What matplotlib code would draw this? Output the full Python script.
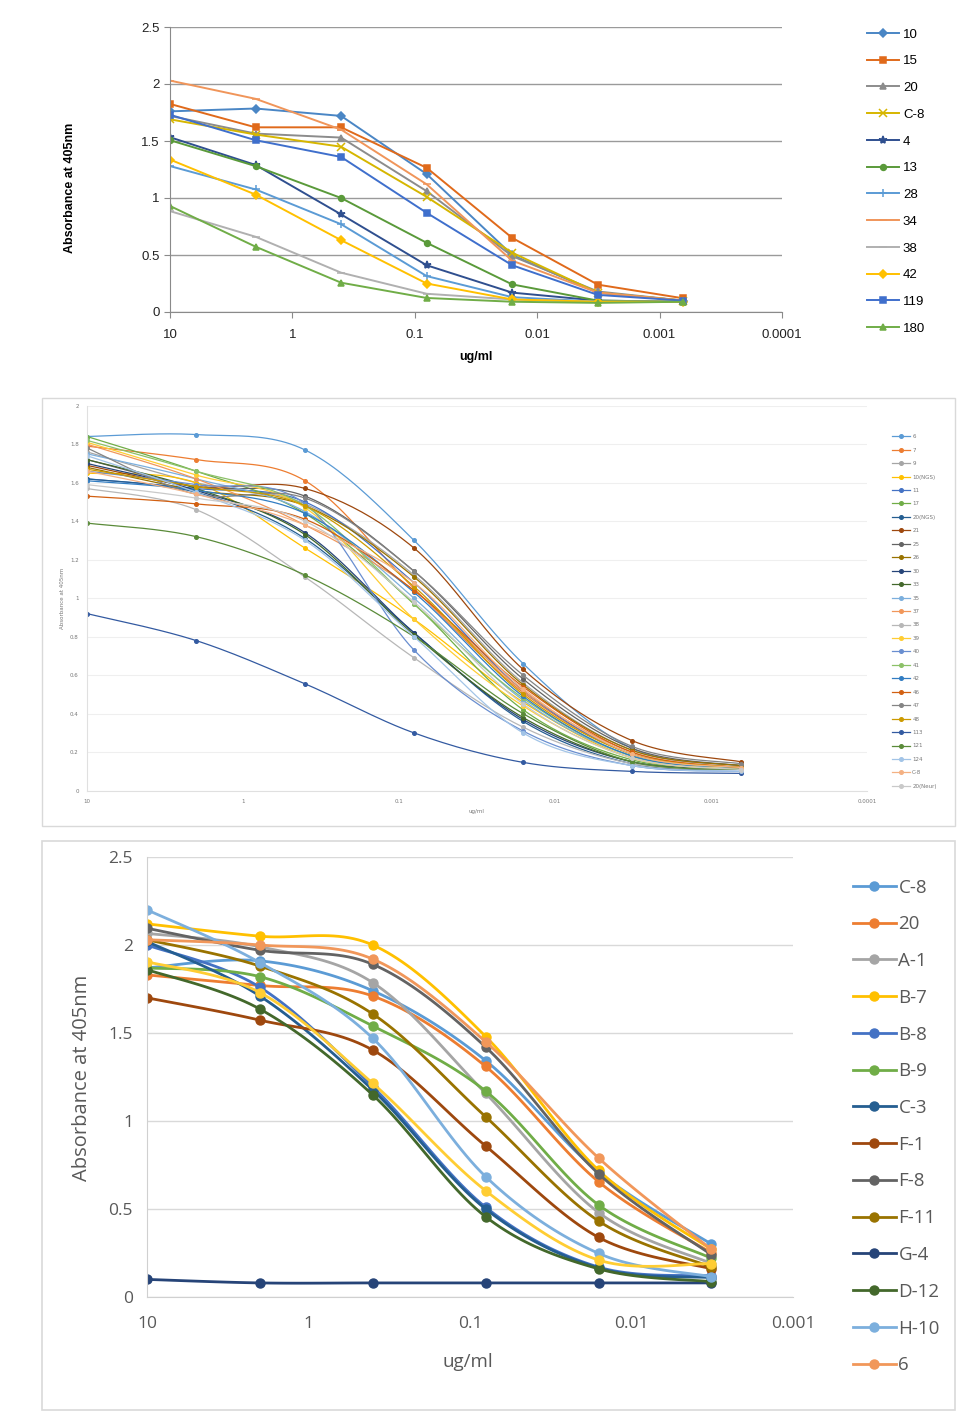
import matplotlib
matplotlib.use('Agg')
import matplotlib.pyplot as plt
from matplotlib.patches import Rectangle
import numpy as np

# ---- данные: концентрации (ug/ml)
conc7 = [10, 2, 0.4, 0.08, 0.016, 0.0032, 0.00064]
conc6 = [10, 2, 0.4, 0.08, 0.016, 0.0032]

# ---- панель 1
p1_names = ['10', '15', '20', 'C-8', '4', '13', '28', '34', '38', '42', '119', '180']
p1_values = [
    [1.76, 1.785, 1.72, 1.21, 0.50, 0.17, 0.10],
    [1.825, 1.62, 1.62, 1.265, 0.65, 0.24, 0.12],
    [1.72, 1.565, 1.53, 1.06, 0.49, 0.18, 0.10],
    [1.69, 1.557, 1.45, 1.01, 0.52, 0.17, 0.10],
    [1.533, 1.29, 0.856, 0.41, 0.17, 0.10, 0.09],
    [1.507, 1.28, 1.0, 0.607, 0.242, 0.10, 0.09],
    [1.28, 1.075, 0.77, 0.315, 0.13, 0.09, 0.09],
    [2.03, 1.87, 1.60, 1.12, 0.45, 0.17, 0.10],
    [0.885, 0.66, 0.345, 0.16, 0.11, 0.09, 0.09],
    [1.337, 1.03, 0.63, 0.25, 0.11, 0.09, 0.09],
    [1.73, 1.507, 1.36, 0.87, 0.41, 0.15, 0.10],
    [0.93, 0.573, 0.257, 0.123, 0.09, 0.08, 0.09],
]
p1_colors = ['#4A86C5', '#E06A1B', '#8C8C8C', '#D6B600', '#2F4F8F', '#5A9A3A',
             '#5B9BD5', '#F0955A', '#B0B0B0', '#FFC000', '#3F6FCC', '#70AD47']
p1_markers = ['D', 's', '^', 'x', '*', 'o', '+', '_', '_', 'D', 's', '^']

# ---- панель 2
p2_names = ['6', '7', '9', '10(NGS)', '11', '17', '20(NGS)', '21', '25', '26', '30', '33',
            '35', '37', '38', '39', '40', '41', '42', '46', '47', '48', '113', '121',
            '124', 'C-8', '20(Neur)']
p2_values = [
    [1.84, 1.85, 1.77, 1.30, 0.66, 0.22, 0.13],
    [1.79, 1.72, 1.61, 1.05, 0.51, 0.19, 0.12],
    [1.76, 1.60, 1.49, 1.12, 0.56, 0.21, 0.13],
    [1.65, 1.60, 1.26, 0.89, 0.46, 0.17, 0.11],
    [1.62, 1.57, 1.50, 1.08, 0.52, 0.19, 0.12],
    [1.84, 1.66, 1.44, 0.97, 0.42, 0.16, 0.11],
    [1.62, 1.55, 1.31, 0.82, 0.36, 0.14, 0.11],
    [1.69, 1.58, 1.57, 1.26, 0.63, 0.26, 0.15],
    [1.72, 1.58, 1.53, 1.14, 0.58, 0.22, 0.13],
    [1.68, 1.56, 1.48, 1.11, 0.55, 0.21, 0.13],
    [1.70, 1.56, 1.34, 0.82, 0.37, 0.15, 0.11],
    [1.72, 1.57, 1.33, 0.81, 0.38, 0.15, 0.11],
    [1.75, 1.62, 1.45, 1.00, 0.47, 0.18, 0.12],
    [1.80, 1.62, 1.38, 1.04, 0.52, 0.20, 0.12],
    [1.57, 1.46, 1.11, 0.69, 0.33, 0.14, 0.11],
    [1.81, 1.64, 1.47, 0.89, 0.44, 0.17, 0.11],
    [1.66, 1.59, 1.49, 0.73, 0.31, 0.13, 0.10],
    [1.82, 1.66, 1.48, 0.97, 0.48, 0.18, 0.12],
    [1.61, 1.56, 1.44, 1.03, 0.49, 0.18, 0.12],
    [1.53, 1.49, 1.41, 1.04, 0.54, 0.20, 0.12],
    [1.78, 1.54, 1.52, 1.14, 0.60, 0.23, 0.14],
    [1.67, 1.58, 1.48, 1.06, 0.50, 0.19, 0.12],
    [0.92, 0.78, 0.555, 0.30, 0.147, 0.10, 0.09],
    [1.39, 1.32, 1.12, 0.80, 0.40, 0.15, 0.11],
    [1.74, 1.55, 1.30, 0.80, 0.30, 0.13, 0.10],
    [1.66, 1.54, 1.38, 1.08, 0.53, 0.19, 0.12],
    [1.59, 1.52, 1.40, 0.98, 0.45, 0.17, 0.11],
]
p2_colors = ['#5B9BD5', '#ED7D31', '#A5A5A5', '#FFC000', '#4472C4', '#70AD47', '#255E91',
             '#9E480E', '#636363', '#997300', '#264478', '#43682B', '#7CAFDD', '#F1975A',
             '#B7B7B7', '#FFCD33', '#698ED0', '#8CC168', '#327DC2', '#D26012', '#848484',
             '#CC9A00', '#335AA1', '#5A8B39', '#A2C4E7', '#F4B183', '#C9C9C9']

# ---- панель 3
p3_names = ['C-8', '20', 'A-1', 'B-7', 'B-8', 'B-9', 'C-3', 'F-1', 'F-8', 'F-11', 'G-4',
            'D-12', 'H-10', '6', '_nolegend_']
p3_values = [
    [1.87, 1.91, 1.74, 1.343, 0.71, 0.30],
    [1.83, 1.77, 1.71, 1.31, 0.655, 0.25],
    [2.066, 1.99, 1.786, 1.157, 0.48, 0.19],
    [2.12, 2.05, 2.0, 1.48, 0.72, 0.27],
    [2.0, 1.76, 1.195, 0.51, 0.17, 0.12],
    [1.87, 1.82, 1.54, 1.17, 0.523, 0.22],
    [2.02, 1.71, 1.176, 0.50, 0.165, 0.11],
    [1.70, 1.573, 1.403, 0.858, 0.339, 0.16],
    [2.095, 1.97, 1.89, 1.42, 0.70, 0.24],
    [2.03, 1.88, 1.608, 1.024, 0.432, 0.17],
    [0.10, 0.08, 0.08, 0.08, 0.08, 0.08],
    [1.86, 1.636, 1.148, 0.456, 0.16, 0.087],
    [2.2, 1.90, 1.47, 0.684, 0.248, 0.115],
    [2.03, 2.0, 1.92, 1.45, 0.79, 0.27],
    [1.905, 1.73, 1.214, 0.604, 0.21, 0.19],
]
p3_colors = ['#5B9BD5', '#ED7D31', '#A5A5A5', '#FFC000', '#4472C4', '#70AD47', '#255E91',
             '#9E480E', '#636363', '#997300', '#264478', '#43682B', '#7CAFDD', '#F1975A',
             '#FFCD33']

dec_labels = ['10', '1', '0.1', '0.01', '0.001', '0.0001']
dec_ticks = [10, 1, 0.1, 0.01, 0.001, 0.0001]


def smooth(xs, ys, n=24):
    # сглаживание как в Excel (кубический Безье, Catmull-Rom), в координатах log10(x), y
    pts = np.column_stack([np.log10(xs), ys])
    P = np.vstack([pts[0], pts, pts[-1]])
    segs = []
    t = np.linspace(0, 1, n)[:, None]
    for i in range(1, len(P) - 2):
        p0, p1, p2, p3 = P[i - 1], P[i], P[i + 1], P[i + 2]
        c1 = p1 + (p2 - p0) / 6
        c2 = p2 - (p3 - p1) / 6
        segs.append((1 - t) ** 3 * p1 + 3 * (1 - t) ** 2 * t * c1 + 3 * (1 - t) * t ** 2 * c2 + t ** 3 * p2)
    s = np.vstack(segs)
    return 10 ** s[:, 0], s[:, 1]


W, H = 980, 1418
fig = plt.figure(figsize=(W / 100, H / 100), dpi=100)


def fx(px):
    return px / W


def fy(py):
    return 1 - py / H


# ================= панель 1
ax1 = fig.add_axes([fx(170), fy(312), fx(782 - 170), (312 - 27) / H])
f1 = 'Liberation Sans'
for name, vals, c, m in zip(p1_names, p1_values, p1_colors, p1_markers):
    ms = 4.2 if m in ('s', 'o', '^') else 3.6
    if m == '*':
        ms = 6
    if m in ('x', '+', '_'):
        ms = 5.5
    ax1.plot(conc7, vals, color=c, lw=1.4, marker=m, ms=ms, mew=1.1, label=name)
ax1.set_xscale('log')
ax1.set_xlim(10, 0.0001)
ax1.set_ylim(0, 2.5)
ax1.set_xticks(dec_ticks)
ax1.set_xticklabels(dec_labels)
ax1.minorticks_off()
ax1.set_yticks([0, 0.5, 1, 1.5, 2, 2.5])
ax1.set_yticklabels(['0', '0.5', '1', '1.5', '2', '2.5'])
ax1.grid(axis='y', color='#9A9A9A', lw=1)
ax1.set_axisbelow(True)
for s in ['top', 'right']:
    ax1.spines[s].set_visible(False)
for s in ['left', 'bottom']:
    ax1.spines[s].set_color('#8A8A8A')
ax1.tick_params(axis='both', colors='#8A8A8A', labelcolor='#222222', labelsize=9.5, length=4)
ax1.tick_params(axis='x', pad=8)
for lab in ax1.get_xticklabels() + ax1.get_yticklabels():
    lab.set_fontfamily(f1)
fig.text(fx(476), fy(357), 'ug/ml', ha='center', va='center', fontsize=9, fontweight='bold', family=f1)
fig.text(fx(70), fy(188), 'Absorbance at 405nm', ha='center', va='center', rotation=90,
         fontsize=9, fontweight='bold', family=f1)
ax1.legend(loc='upper left', bbox_to_anchor=(fx(862), fy(23)), bbox_transform=fig.transFigure,
           frameon=False, prop={'family': f1, 'size': 9.5}, labelspacing=1.1,
           handlelength=2.4, handletextpad=0.3, borderaxespad=0)

# ================= панель 2
fig.patches.append(Rectangle((fx(42), fy(826)), fx(955 - 42), (826 - 398) / H,
                             transform=fig.transFigure, fill=False, ec='#D9D9D9', lw=1))
ax2 = fig.add_axes([fx(87), fy(790.7), fx(867 - 87), (790.7 - 405.7) / H])
for name, vals, c in zip(p2_names, p2_values, p2_colors):
    sx, sy = smooth(conc7, vals)
    ax2.plot(sx, sy, color=c, lw=0.9)
    ax2.plot(conc7, vals, ls='none', marker='o', ms=2.6, color=c)
    ax2.plot([], [], color=c, lw=0.9, marker='o', ms=2.6, label=name)
ax2.set_xscale('log')
ax2.set_xlim(10, 0.0001)
ax2.set_ylim(0, 2)
ax2.set_xticks(dec_ticks)
ax2.set_xticklabels(dec_labels)
ax2.minorticks_off()
ax2.set_yticks([0, 0.2, 0.4, 0.6, 0.8, 1, 1.2, 1.4, 1.6, 1.8, 2])
ax2.set_yticklabels(['0', '0.2', '0.4', '0.6', '0.8', '1', '1.2', '1.4', '1.6', '1.8', '2'])
ax2.grid(axis='y', color='#EFEFEF', lw=0.8)
ax2.set_axisbelow(True)
for s in ['top', 'right']:
    ax2.spines[s].set_visible(False)
for s in ['left', 'bottom']:
    ax2.spines[s].set_color('#E0E0E0')
ax2.tick_params(axis='both', length=0, labelsize=4, labelcolor='#777777', pad=6)
fig.text(fx(476), fy(812), 'ug/ml', ha='center', va='center', fontsize=4, color='#777777')
fig.text(fx(62), fy(598), 'Absorbance at 405nm', ha='center', va='center', rotation=90,
         fontsize=4, color='#777777')
ax2.legend(loc='upper left', bbox_to_anchor=(fx(890), fy(432)), bbox_transform=fig.transFigure,
           frameon=False, fontsize=4, labelspacing=1.52, handlelength=3.2, handletextpad=0.4,
           borderaxespad=0, labelcolor='#777777')

# ================= панель 3
fig.patches.append(Rectangle((fx(42), fy(1410)), fx(955 - 42), (1410 - 841) / H,
                             transform=fig.transFigure, fill=False, ec='#D9D9D9', lw=1.2))
ax3 = fig.add_axes([fx(147), fy(1297), fx(793 - 147), (1297 - 857) / H])
f3 = 'Open Sans'
for name, vals, c in zip(p3_names, p3_values, p3_colors):
    sx, sy = smooth(conc6, vals)
    ax3.plot(sx, sy, color=c, lw=2)
    ax3.plot(conc6, vals, ls='none', marker='o', ms=6.5, color=c)
    ax3.plot([], [], color=c, lw=2, marker='o', ms=6.5, label=name)
ax3.set_xscale('log')
ax3.set_xlim(10, 0.001)
ax3.set_ylim(0, 2.5)
ax3.set_xticks(dec_ticks[:5])
ax3.set_xticklabels(dec_labels[:5])
ax3.minorticks_off()
ax3.set_yticks([0, 0.5, 1, 1.5, 2, 2.5])
ax3.set_yticklabels(['0', '0.5', '1', '1.5', '2', '2.5'])
ax3.grid(axis='y', color='#D9D9D9', lw=1)
ax3.set_axisbelow(True)
for s in ['top', 'right']:
    ax3.spines[s].set_visible(False)
for s in ['left', 'bottom']:
    ax3.spines[s].set_color('#D0D0D0')
ax3.tick_params(axis='both', length=0, labelsize=12.5, labelcolor='#595959')
ax3.tick_params(axis='x', pad=14)
ax3.tick_params(axis='y', pad=10)
for lab in ax3.get_xticklabels() + ax3.get_yticklabels():
    lab.set_fontfamily(f3)
fig.text(fx(468), fy(1362), 'ug/ml', ha='center', va='center', fontsize=13.5, color='#595959', family=f3)
fig.text(fx(82), fy(1078), 'Absorbance at 405nm', ha='center', va='center', rotation=90,
         fontsize=14.5, color='#595959', family=f3)
ax3.legend(loc='upper left', bbox_to_anchor=(fx(845), fy(871)), bbox_transform=fig.transFigure,
           frameon=False, prop={'family': f3, 'size': 13.5}, labelspacing=1.0,
           handlelength=2.3, handletextpad=0.15, borderaxespad=0, labelcolor='#595959')

fig.savefig('out.png', dpi=100)
